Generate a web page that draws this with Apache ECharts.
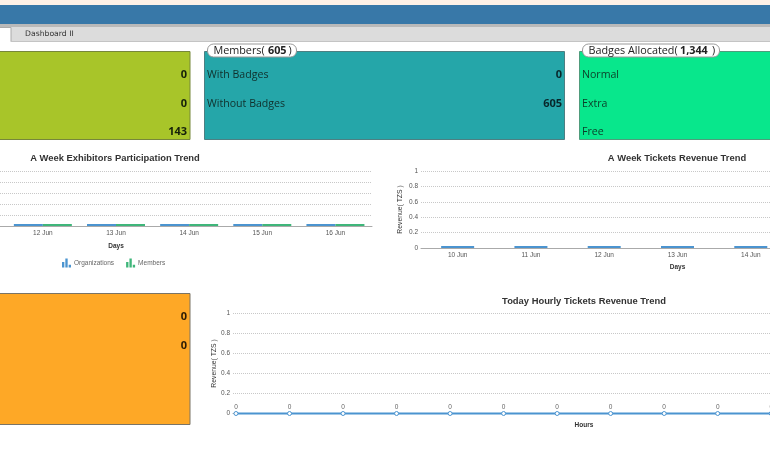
<!DOCTYPE html>
<html>
<head>
<meta charset="utf-8">
<style>
  html, body { margin: 0; padding: 0; background: #fff; }
  #main { width: 770px; height: 450px; }
</style>
<script src="https://cdn.jsdelivr.net/npm/echarts@6/dist/echarts.min.js"></script>
</head>
<body>
<div id="main"></div>
<script>
var exhibitorDays = ['10 Jun', '11 Jun', '12 Jun', '13 Jun', '14 Jun', '15 Jun', '16 Jun'];
var organizations = [0, 0, 0, 0, 0, 0, 0];
var members = [0, 0, 0, 0, 0, 0, 0];

var revenueDays = ['10 Jun', '11 Jun', '12 Jun', '13 Jun', '14 Jun', '15 Jun', '16 Jun'];
var weekRevenue = [0, 0, 0, 0, 0, 0, 0];

var hours = [0, 1, 2, 3, 4, 5, 6, 7, 8, 9, 10, 11, 12, 13];
var hourlyRevenue = [0, 0, 0, 0, 0, 0, 0, 0, 0, 0, 0, 0, 0, 0];

var limeValues = ['0', '0', '143'];
var memberLabels = ['With Badges', 'Without Badges'];
var memberValues = ['0', '605'];
var badgeLabels = ['Normal', 'Extra', 'Free'];
var orangeValues = ['0', '0'];

var cardFont = '"Open Sans", "Noto Sans", sans-serif';
var chartFont = '"Liberation Sans", Arial, sans-serif';
var blue = '#4b94d0';
var green = '#3fb67a';

function rect(x, y, w, h, fill, stroke) {
  return {
    type: 'rect', silent: true,
    shape: { x: x, y: y, width: w, height: h },
    style: { fill: fill, stroke: stroke || null, lineWidth: stroke ? 1 : 0 }
  };
}

function label(x, y, text, opts) {
  opts = opts || {};
  return {
    type: 'text', silent: true, x: x, y: y, z: 5,
    style: {
      text: text,
      fill: opts.color || '#10302c',
      font: (opts.bold ? 'bold ' : '') + (opts.size || 10.6) + 'px ' + (opts.family || cardFont),
      textAlign: opts.align || 'left',
      textVerticalAlign: 'middle'
    }
  };
}

// white pill sitting on the card's top edge
function pill(x, w) {
  return {
    type: 'rect', silent: true, z: 4,
    shape: { x: x, y: 44, width: w, height: 13, r: 6 },
    style: { fill: '#fff', stroke: '#999', lineWidth: 1 }
  };
}

var shapes = [
  rect(0, 0, 770, 5, '#fdf1e7'),
  rect(0, 5, 770, 19, '#3878a8'),
  rect(0, 24, 770, 3, '#b9b9b9'),
  rect(0, 27, 770, 14, '#dcdcdc'),
  rect(-2, 27.5, 13, 14, '#fff', '#aaa'),
  rect(0, 41, 770, 1, '#c4c4c4'),
  rect(-2, 41, 12.5, 2, '#fff'),
  label(25, 34.5, 'Dashboard II', { size: 7.7, family: '"DejaVu Sans", sans-serif', color: '#333' }),

  rect(-2, 51.5, 192, 88, '#a8c529', '#77873a'),
  rect(204.5, 51.5, 360, 88, '#25a6a9', '#4d7f82'),
  rect(579.5, 51.5, 194, 88, '#08e78c', '#4f9c7c'),
  rect(-2, 293.5, 192, 131, '#fea826', '#7a7466'),

  pill(207.5, 89),
  label(213.5, 51, 'Members(', { size: 10.8, color: '#222' }),
  label(268, 51, '605', { size: 10.8, bold: true, color: '#222' }),
  label(288.5, 51, ')', { size: 10.8, color: '#222' }),
  pill(582.5, 137),
  label(588.5, 51, 'Badges Allocated(', { size: 10.8, color: '#222' }),
  label(680, 51, '1,344', { size: 10.8, bold: true, color: '#222' }),
  label(712, 51, ')', { size: 10.8, color: '#222' })
];

var rowY = [75, 104, 132];
limeValues.forEach(function (v, i) {
  shapes.push(label(187, rowY[i], v, { bold: true, size: 11, align: 'right', color: '#15200a' }));
});
memberLabels.forEach(function (t, i) {
  shapes.push(label(207, rowY[i], t));
  shapes.push(label(562, rowY[i], memberValues[i], { bold: true, size: 11, align: 'right', color: '#08262a' }));
});
badgeLabels.forEach(function (t, i) {
  shapes.push(label(582, rowY[i], t, { color: '#0c3d28' }));
});
orangeValues.forEach(function (v, i) {
  shapes.push(label(187, [317, 346][i], v, { bold: true, size: 11, align: 'right', color: '#2a1c05' }));
});

function gridSplit() {
  return { show: true, lineStyle: { color: '#c8c8c8', type: 'dotted', width: 1 } };
}

function valueAxis(gridIndex, nameGap) {
  return {
    type: 'value', gridIndex: gridIndex, min: 0, max: 1, interval: 0.2,
    axisLine: { show: false }, axisTick: { show: false },
    axisLabel: { fontSize: 6.5, color: '#555', fontFamily: chartFont, margin: 3 },
    splitLine: gridSplit(),
    name: nameGap ? 'Revenue( TZS )' : '',
    nameLocation: 'middle', nameGap: nameGap, nameRotate: 90, nameMoveOverlap: false,
    nameTextStyle: { fontSize: 6.8, color: '#333', fontFamily: chartFont }
  };
}

function dayAxis(gridIndex, days, nameGap) {
  return {
    type: 'category', gridIndex: gridIndex, data: days,
    axisLine: { lineStyle: { color: '#aaa' } }, axisTick: { show: false },
    axisLabel: { fontSize: 6.5, color: '#555', fontFamily: chartFont, margin: 4, interval: 0 },
    name: 'Days', nameLocation: 'middle', nameGap: nameGap,
    nameTextStyle: { fontSize: 6.5, fontWeight: 'bold', color: '#333', fontFamily: chartFont }
  };
}

var barIcon = 'path://M0 4 H2.6 V10 H0 Z M3.7 0 H6.3 V10 H3.7 Z M7.4 7 H10 V10 H7.4 Z';
var titleStyle = { fontSize: 9.4, fontWeight: 'bold', color: '#333', fontFamily: chartFont };

var chart = echarts.init(document.getElementById('main'), null, { renderer: 'canvas' });
chart.setOption({
  animation: false,
  title: [
    { text: 'A Week Exhibitors Participation Trend', left: 115, top: 153.5, padding: 0, textAlign: 'center', textStyle: titleStyle },
    { text: 'A Week Tickets Revenue Trend', left: 677, top: 153.5, padding: 0, textAlign: 'center', textStyle: titleStyle },
    { text: 'Today Hourly Tickets Revenue Trend', left: 584, top: 296.5, padding: 0, textAlign: 'center', textStyle: titleStyle }
  ],
  legend: {
    left: 62, top: 258.5, padding: 0, itemWidth: 9, itemHeight: 9, itemGap: 12,
    icon: barIcon,
    data: ['Organizations', 'Members'],
    textStyle: { fontSize: 6.5, color: '#666', fontFamily: chartFont, padding: [0, 0, 0, -2] }
  },
  grid: [
    { left: -140, top: 171, width: 512, height: 55, outerBoundsMode: 'none' },
    { left: 421, top: 171, width: 513, height: 77, outerBoundsMode: 'none' },
    { left: 233, top: 313.5, width: 702, height: 100, outerBoundsMode: 'none' }
  ],
  xAxis: [
    dayAxis(0, exhibitorDays, 17),
    dayAxis(1, revenueDays, 16),
    {
      type: 'value', gridIndex: 2, min: -0.056, max: 13.06,
      axisLine: { show: true, onZero: false, lineStyle: { color: '#aaa' } },
      axisTick: { show: false }, axisLabel: { show: false }, splitLine: { show: false },
      name: 'Hours', nameLocation: 'middle', nameGap: 8,
      nameTextStyle: { fontSize: 6.5, fontWeight: 'bold', color: '#333', fontFamily: chartFont }
    }
  ],
  yAxis: [valueAxis(0, 0), valueAxis(1, 17), valueAxis(2, 15)],
  series: [
    { name: 'Organizations', type: 'bar', xAxisIndex: 0, yAxisIndex: 0, data: organizations, z: 6,
      barWidth: 29, barGap: 0, barMinHeight: 2, itemStyle: { color: blue } },
    { name: 'Members', type: 'bar', xAxisIndex: 0, yAxisIndex: 0, data: members, z: 6,
      barWidth: 29, barGap: 0, barMinHeight: 2, itemStyle: { color: green } },
    { name: 'Revenue', type: 'bar', xAxisIndex: 1, yAxisIndex: 1, data: weekRevenue, z: 6,
      barWidth: 33, barMinHeight: 2, itemStyle: { color: blue } },
    { name: 'Hourly', type: 'line', xAxisIndex: 2, yAxisIndex: 2, z: 6,
      data: hours.map(function (h, i) { return [h, hourlyRevenue[i]]; }),
      symbol: 'circle', symbolSize: 4, clip: false,
      lineStyle: { color: blue, width: 2 },
      itemStyle: { color: '#fff', borderColor: blue, borderWidth: 1 },
      label: { show: true, position: 'top', distance: 0, fontSize: 6.5, color: '#666', fontFamily: chartFont } }
  ],
  graphic: shapes
});
</script>
</body>
</html>
